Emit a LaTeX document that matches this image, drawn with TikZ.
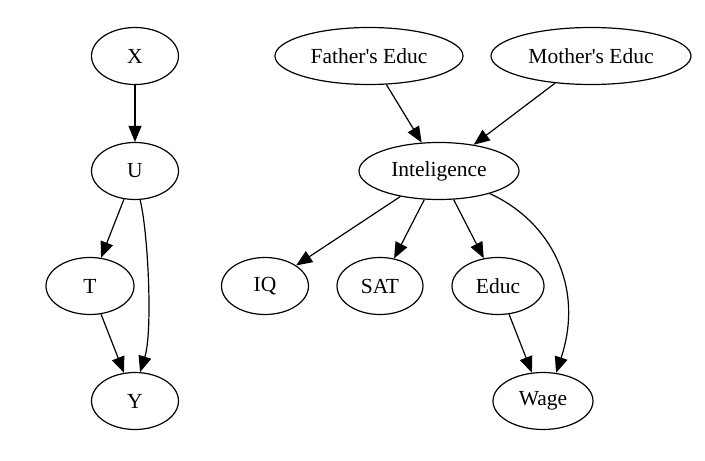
\documentclass[tikz,border=0pt]{standalone}
\usepackage{fontspec}
\setmainfont{Liberation Serif}
\usetikzlibrary{shapes.geometric,arrows.meta}
\begin{document}
\begin{tikzpicture}[x=1pt,y=1pt,
  vnode/.style={ellipse,draw,line width=1.2pt,inner sep=0pt,minimum height=57pt,font=\fontsize{21.5}{26}\selectfont},
  edge/.style={line width=1.2pt,-{Triangle[length=16pt,width=13pt]}}]
\useasboundingbox (0,0) rectangle (705,461);
\node[vnode,minimum width=87pt] (X) at (135,405) {X};
\node[vnode,minimum width=87pt] (U) at (135,290) {U};
\node[vnode,minimum width=88pt] (T) at (90,175) {T};
\node[vnode,minimum width=87pt] (Y) at (135,60) {Y};
\node[vnode,minimum width=188pt] (F) at (369,405) {Father\textquotesingle s Educ};
\node[vnode,minimum width=200pt] (M) at (591,405) {Mother\textquotesingle s Educ};
\node[vnode,minimum width=160pt] (I) at (439,290) {Inteligence};
\node[vnode,minimum width=87pt] (IQ) at (265,175) {IQ};
\node[vnode,minimum width=86pt] (S) at (380,175) {SAT};
\node[vnode,minimum width=92pt] (E) at (498,175) {Educ};
\node[vnode,minimum width=100pt] (W) at (543,60) {Wage};
\draw[edge] (X) -- (U);
\draw[edge] (U) -- (T);
\draw[edge] (T) -- (Y);
\draw[edge] (U.-80) .. controls (148,230) and (153,130) .. (Y.80);
\draw[edge] (F) -- (I);
\draw[edge] (M) -- (I);
\draw[edge] (I) -- (IQ);
\draw[edge] (I) -- (S);
\draw[edge] (I) -- (E);
\draw[edge] (E) -- (W);
\draw[edge] (I.-24) .. controls (550,240) and (585,175) .. (W.65);
\end{tikzpicture}
\end{document}
